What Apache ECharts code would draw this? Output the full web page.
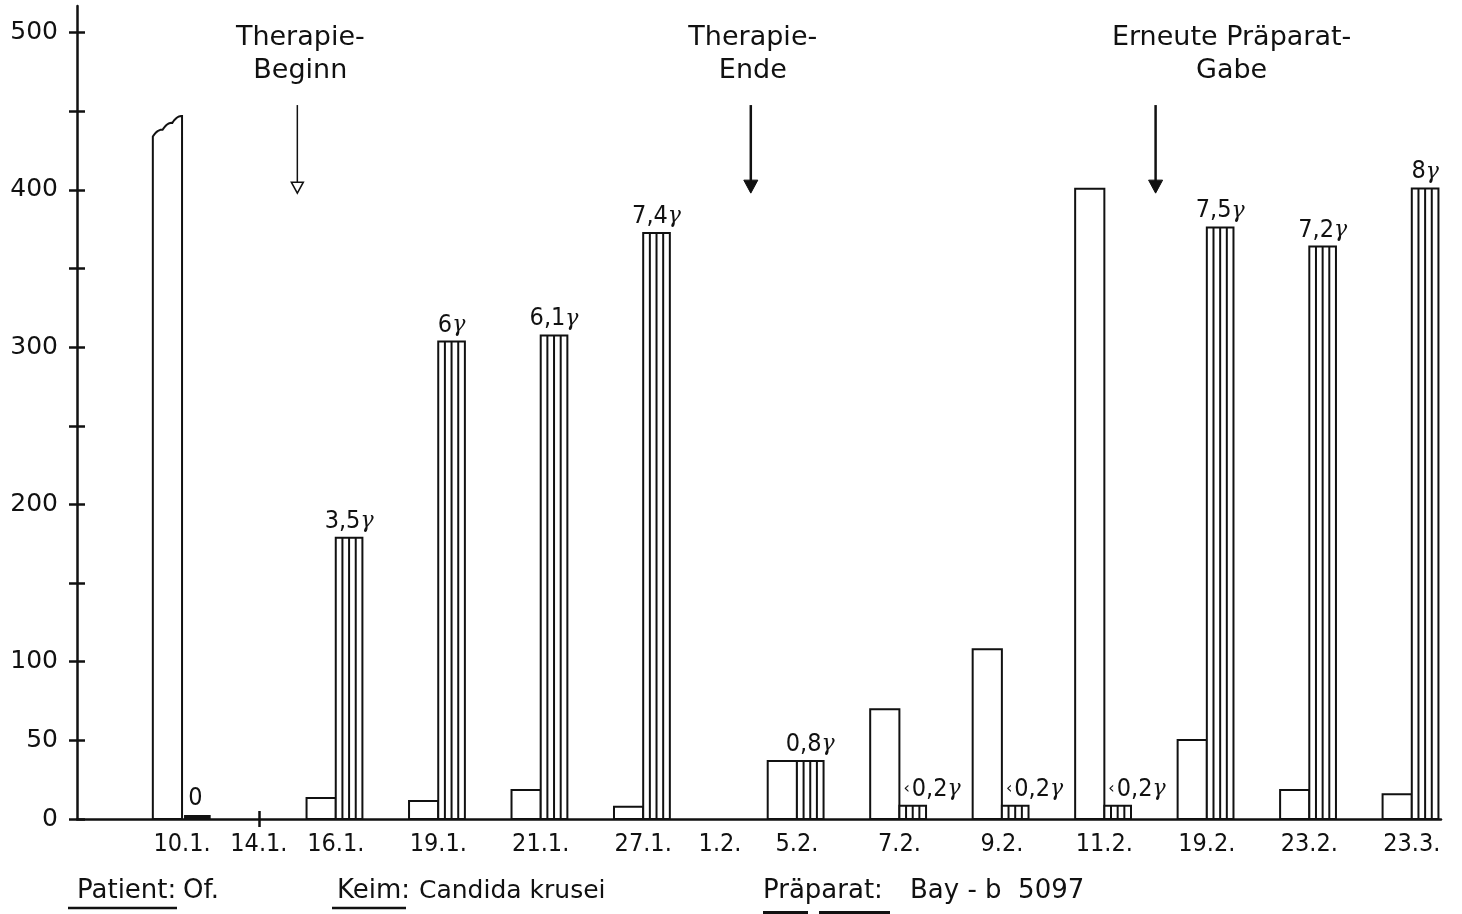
<!DOCTYPE html>
<html><head><meta charset="utf-8">
<script src="https://cdn.jsdelivr.net/npm/echarts@6/dist/echarts.min.js"></script>
<style>html,body{margin:0;padding:0;background:#fff}#c{width:1462px;height:914px}</style>
</head><body><div id="c"></div>
<script>
// ---------- data ----------
const categories = ['10.1.', '14.1.', '16.1.', '19.1.', '21.1.', '27.1.', '1.2.', '5.2.', '7.2.', '9.2.', '11.2.', '19.2.', '23.2.', '23.3.'];
// white (open) bars
const keimValues = [447, null, 13.4, 11.5, 18.4, 7.8, null, 36.9, 69.8, 108, 400.8, 50.3, 18.4, 15.7];
// low side of a broken (cut-off) bar top, null = normal bar
const keimBrokenLow = [434, null, null, null, null, null, null, null, null, null, null, null, null, null];
// hatched bars
const praeparatValues = [0, null, 178.8, 303.6, 307.5, 372.6, null, 36.9, 8.5, 8.5, 8.5, 376.2, 364, 401];
const praeparatLabels = ['0', null, '3,5γ', '6γ', '6,1γ', '7,4γ', null, '0,8γ', '‹0,2γ', '‹0,2γ', '‹0,2γ', '7,5γ', '7,2γ', '8γ'];
const yTickValues = [0, 50, 100, 150, 200, 250, 300, 350, 400, 450, 500];
const yLabelValues = [0, 50, 100, 200, 300, 400, 500];
const xTickCategories = ['14.1.'];
const annotationTexts = ['Therapie-\nBeginn', 'Therapie-\nEnde', 'Erneute Präparat-\nGabe'];
const annotationAfter = ['14.1.', '1.2.', '11.2.'];   // arrow lies between this date and the next
const annotationFraction = [0.5, 0.4, 0.5];

// ---------- layout helpers ----------
const FONT = "'DejaVu Sans', sans-serif";
const NARROW = "'Liberation Sans Narrow', 'DejaVu Sans Condensed', 'DejaVu Sans', sans-serif";
const INK = '#111';
// dates without measurement take half the width of a measured date
const slotW = categories.map((c, i) => (keimValues[i] == null && praeparatValues[i] == null) ? 1 : 2);
const pos = [];
categories.forEach((c, i) => pos.push(i === 0 ? 0 : pos[i - 1] + (slotW[i - 1] + slotW[i]) / 2));
const posOf = name => pos[categories.indexOf(name)];
const annotationPos = annotationAfter.map((n, i) => {
  const k = categories.indexOf(n);
  return pos[k] + (pos[k + 1] - pos[k]) * annotationFraction[i];
});

const whiteData = [];
const hatchData = [];
categories.forEach((c, i) => {
  if (keimValues[i] != null) whiteData.push([pos[i], keimValues[i], keimBrokenLow[i] == null ? keimValues[i] : keimBrokenLow[i]]);
  if (praeparatValues[i] != null) hatchData.push([pos[i], praeparatValues[i], i]);
});

function doseRich(label) {
  let s = label, pre = '', g = '';
  if (s.charAt(0) === '‹') { pre = '{s|‹}'; s = s.slice(1); }
  if (s.charAt(s.length - 1) === 'γ') { g = '{g|γ}'; s = s.slice(0, -1); }
  return pre + '{n|' + s + '}' + g;
}

function renderWhite(params, api) {
  const x = api.value(0), v = api.value(1), low = api.value(2);
  const unit = api.size([1, 0])[0];
  const w = unit * 0.57;
  const top = api.coord([x, v]);
  const base = api.coord([x, 0]);
  const xr = top[0], xl = xr - w;
  const style = { fill: '#fff', stroke: INK, lineWidth: 2 };
  if (low < v) {
    const yl = api.coord([x, low])[1], yr = top[1];
    const pts = [[xl, base[1]], [xl, yl]];
    const n = 3;
    for (let k = 0; k < n; k++) {
      const x0 = xl + (xr - xl) * k / n, y0 = yl + (yr - yl) * k / n;
      const x1 = xl + (xr - xl) * (k + 1) / n, y1 = yl + (yr - yl) * (k + 1) / n;
      const cx = (x0 + x1) / 2, cy = (y0 + y1) / 2 - 4;
      for (let t = 0.1; t <= 1.0001; t += 0.1) {
        const px = (1 - t) * (1 - t) * x0 + 2 * (1 - t) * t * cx + t * t * x1;
        const py = (1 - t) * (1 - t) * y0 + 2 * (1 - t) * t * cy + t * t * y1;
        pts.push([px, py]);
      }
    }
    pts.push([xr, base[1]]);
    return { type: 'polygon', shape: { points: pts }, style: style };
  }
  return { type: 'rect', shape: { x: xl, y: top[1], width: w, height: base[1] - top[1] }, style: style };
}

function renderHatch(params, api) {
  const x = api.value(0), v = api.value(1), idx = api.value(2);
  const unit = api.size([1, 0])[0];
  const w = unit * 0.52;
  const top = api.coord([x, v]);
  const base = api.coord([x, 0]);
  const xl = base[0], xr = xl + w;
  const children = [];
  let labelBottom;
  if (v <= 0) {
    children.push({ type: 'rect', shape: { x: xl + 2, y: base[1] - 4, width: w, height: 4 }, style: { fill: INK } });
    labelBottom = base[1] - 8;
  } else {
    children.push({ type: 'rect', shape: { x: xl, y: top[1], width: w, height: base[1] - top[1] }, style: { fill: '#fff', stroke: INK, lineWidth: 2 } });
    for (let k = 1; k < 4; k++) {
      const lx = xl + w * k / 4;
      children.push({ type: 'line', shape: { x1: lx, y1: top[1], x2: lx, y2: base[1] }, style: { stroke: INK, lineWidth: 2 } });
    }
    labelBottom = top[1] - 4;
  }
  const label = praeparatLabels[idx];
  if (label) {
    const lessThan = label.charAt(0) === '‹';
    children.push({
      type: 'text',
      style: {
        text: doseRich(label),
        x: lessThan ? xl + 4 : xl + w / 2,
        y: labelBottom,
        align: lessThan ? 'left' : 'center',
        verticalAlign: 'bottom',
        fill: INK,
        rich: {
          n: { fontSize: 25, fontFamily: NARROW, fill: INK },
          g: { fontSize: 22, fontFamily: "'DejaVu Serif', serif", fontStyle: 'italic', fill: INK },
          s: { fontSize: 16, fontFamily: FONT, fill: INK, padding: [0, 2, 0, 0] }
        }
      }
    });
  }
  return { type: 'group', children: children };
}

const labelDx = [3, 2, 76];
function renderAnnotation(params, api) {
  const x = api.value(0), i = api.value(1);
  const p1 = api.coord([x, 454]);
  const p2 = api.coord([x, 398]);
  const hollow = i === 0;
  const hw = hollow ? 6 : 7, hh = hollow ? 11 : 13;
  return {
    type: 'group',
    children: [
      { type: 'line', shape: { x1: p1[0], y1: p1[1], x2: p2[0], y2: p2[1] - hh + 1 }, style: { stroke: INK, lineWidth: hollow ? 1.5 : 2.5 } },
      { type: 'polygon', shape: { points: [[p2[0] - hw, p2[1] - hh], [p2[0] + hw, p2[1] - hh], [p2[0], p2[1]]] },
        style: { fill: hollow ? '#fff' : INK, stroke: INK, lineWidth: hollow ? 1.5 : 1 } },
      { type: 'text', style: { text: annotationTexts[i], x: p1[0] + labelDx[i], y: p1[1] - 84, align: 'center', verticalAlign: 'top',
          fontSize: 27, lineHeight: 33, fontFamily: FONT, fill: INK } }
    ]
  };
}

const chart = echarts.init(document.getElementById('c'), null, { renderer: 'canvas' });
const xMin = -2.05, xMax = 24.57;
const yMax = 517;
chart.setOption({
  animation: false,
  backgroundColor: '#fff',
  grid: { left: 77, right: 21, top: 6, bottom: 95, containLabel: false, outerBoundsMode: 'none' },
  xAxis: [
    {
      type: 'value', min: xMin, max: xMax, position: 'bottom',
      axisLine: { show: true, onZero: false, lineStyle: { color: INK, width: 2.5 } },
      axisTick: { show: true, customValues: xTickCategories.map(posOf), length: 8, lineStyle: { color: INK, width: 2.5 } },
      axisLabel: {
        show: true, customValues: pos, margin: 13,
        formatter: v => { const k = pos.indexOf(v); return k >= 0 ? categories[k] : ''; },
        fontSize: 25, fontFamily: NARROW, color: INK
      },
      splitLine: { show: false }
    },
    {
      type: 'value', min: xMin, max: xMax, position: 'bottom',
      axisLine: { show: false, onZero: false },
      axisTick: { show: true, inside: true, customValues: xTickCategories.map(posOf), length: 8, lineStyle: { color: INK, width: 2.5 } },
      axisLabel: { show: false },
      splitLine: { show: false }
    }
  ],
  yAxis: [
    {
      type: 'value', min: 0, max: yMax, position: 'left',
      axisLine: { show: true, onZero: false, lineStyle: { color: INK, width: 2.5 } },
      axisTick: { show: true, customValues: yTickValues, length: 8, lineStyle: { color: INK, width: 2.5 } },
      axisLabel: { show: true, customValues: yLabelValues, margin: 19, fontSize: 25, fontFamily: FONT, color: INK },
      splitLine: { show: false }
    },
    {
      type: 'value', min: 0, max: yMax, position: 'left',
      axisLine: { show: false, onZero: false },
      axisTick: { show: true, inside: true, customValues: yTickValues, length: 8, lineStyle: { color: INK, width: 2.5 } },
      axisLabel: { show: false },
      splitLine: { show: false }
    }
  ],
  series: [
    { type: 'custom', name: 'Keime', renderItem: renderWhite, data: whiteData, encode: { x: 0, y: 1 }, clip: false, z: 3 },
    { type: 'custom', name: 'Präparat', renderItem: renderHatch, data: hatchData, encode: { x: 0, y: 1 }, clip: false, z: 3 },
    { type: 'custom', name: 'Annotationen', renderItem: renderAnnotation, data: annotationPos.map((p, i) => [p, i]), encode: { x: 0 }, clip: false, z: 4 }
  ],
  graphic: [
    { type: 'text', x: 77, y: 891, style: { text: 'Patient:', fontSize: 26, fontFamily: FONT, fill: INK, verticalAlign: 'middle' } },
    { type: 'text', x: 183, y: 891, style: { text: 'Of.', fontSize: 26, fontFamily: FONT, fill: INK, verticalAlign: 'middle' } },
    { type: 'text', x: 337, y: 891, style: { text: 'Keim:', fontSize: 26, fontFamily: FONT, fill: INK, verticalAlign: 'middle' } },
    { type: 'text', x: 419, y: 891, style: { text: 'Candida krusei', fontSize: 25, fontFamily: FONT, fill: INK, verticalAlign: 'middle' } },
    { type: 'text', x: 763, y: 891, style: { text: 'Präparat:', fontSize: 26, fontFamily: FONT, fill: INK, verticalAlign: 'middle' } },
    { type: 'text', x: 910, y: 891, style: { text: 'Bay - b  5097', fontSize: 26, fontFamily: FONT, fill: INK, verticalAlign: 'middle' } },
    { type: 'line', shape: { x1: 68, y1: 908, x2: 177, y2: 908 }, style: { stroke: INK, lineWidth: 2.5 } },
    { type: 'line', shape: { x1: 332, y1: 908, x2: 406, y2: 908 }, style: { stroke: INK, lineWidth: 2.5 } },
    { type: 'line', shape: { x1: 763, y1: 913, x2: 808, y2: 913 }, style: { stroke: INK, lineWidth: 4 } },
    { type: 'line', shape: { x1: 819, y1: 913, x2: 890, y2: 913 }, style: { stroke: INK, lineWidth: 4 } }
  ]
});
</script>
</body></html>
